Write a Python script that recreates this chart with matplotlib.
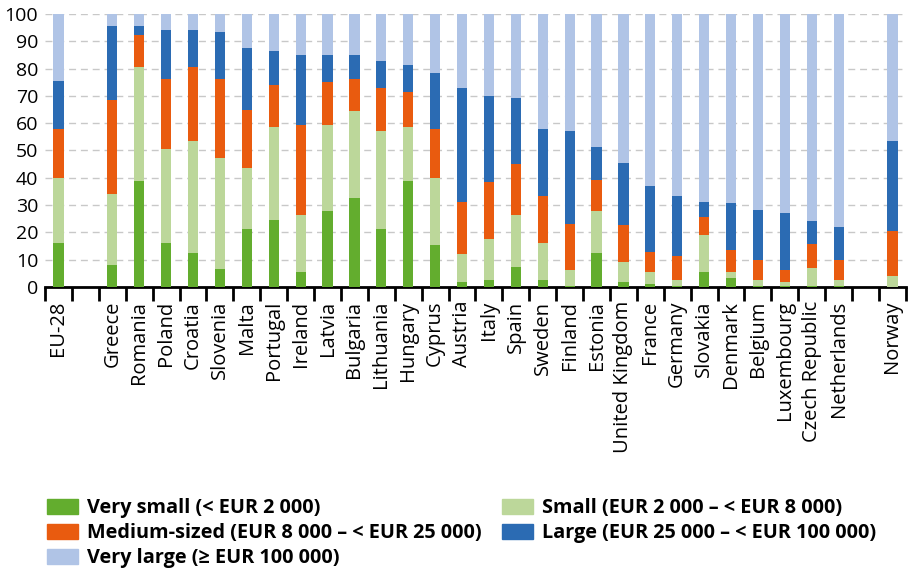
import numpy as np
import matplotlib.pyplot as plt
from matplotlib.patches import Patch

plt.rcParams['font.family'] = ['Open Sans', 'DejaVu Sans']

countries = ["EU-28", "", "Greece", "Romania", "Poland", "Croatia", "Slovenia", "Malta",
             "Portugal", "Ireland", "Latvia", "Bulgaria", "Lithuania", "Hungary", "Cyprus",
             "Austria", "Italy", "Spain", "Sweden", "Finland", "Estonia", "United Kingdom",
             "France", "Germany", "Slovakia", "Denmark", "Belgium", "Luxembourg",
             "Czech Republic", "Netherlands", "", "Norway"]

# shares (%) of holdings by economic size class
very_small = [16.2, 0, 8.2, 39.0, 16.2, 12.5, 6.7, 21.1, 24.6, 5.4, 27.7, 32.6, 21.1, 39.0, 15.4,
              1.8, 2.6, 7.5, 2.6, 0.3, 12.5, 1.8, 1.1, 0.3, 5.4, 3.4, 0.3, 0.2, 0.3, 0.2, 0, 0.0]
small = [23.6, 0, 26.0, 41.6, 34.3, 40.9, 40.4, 22.3, 33.9, 20.9, 31.5, 31.7, 35.9, 19.5, 24.4,
         10.2, 15.0, 18.7, 13.6, 6.0, 15.2, 7.4, 4.4, 2.4, 13.7, 2.1, 2.4, 1.6, 6.8, 2.5, 0, 4.0]
medium = [17.9, 0, 34.4, 11.6, 25.8, 27.2, 29.2, 21.6, 15.6, 32.9, 15.8, 12.0, 15.8, 12.8, 17.9,
          19.3, 20.9, 18.7, 17.3, 16.9, 11.5, 13.5, 7.2, 8.6, 6.4, 8.1, 7.2, 4.5, 8.5, 7.2, 0, 16.6]
large = [17.9, 0, 27.1, 3.5, 17.8, 13.5, 17.1, 22.7, 12.2, 25.7, 9.9, 8.6, 9.9, 10.0, 20.7,
         41.5, 31.4, 24.2, 24.2, 33.8, 12.0, 22.8, 24.2, 22.0, 5.8, 17.0, 18.4, 20.7, 8.4, 11.9, 0, 32.7]
very_large = [24.4, 0, 4.3, 4.3, 5.9, 5.9, 6.6, 12.3, 13.7, 15.1, 15.1, 15.1, 17.3, 18.7, 21.6,
              27.2, 30.1, 30.9, 42.3, 43.0, 48.8, 54.5, 63.1, 66.7, 68.7, 69.4, 71.7, 73.0, 76.0, 78.2, 0, 46.7]

series = [very_small, small, medium, large, very_large]
labels = ["Very small (< EUR 2 000)", "Small (EUR 2 000 – < EUR 8 000)",
          "Medium-sized (EUR 8 000 – < EUR 25 000)", "Large (EUR 25 000 – < EUR 100 000)",
          "Very large (≥ EUR 100 000)"]
colors = ["#63ad2e", "#bcd79a", "#e95b0f", "#2b6bb3", "#b0c4e6"]

fig = plt.figure(figsize=(9.1, 5.7), dpi=100)
ax = fig.add_axes([0.0495, 0.4965, 0.946, 0.479])

x = np.arange(len(countries))
bottom = np.zeros(len(countries))
for vals, c in zip(series, colors):
    vals = np.array(vals)
    ax.bar(x, vals, 0.38, bottom=bottom, color=c, zorder=3)
    bottom += vals

ax.set_ylim(0, 100)
ax.set_xlim(-0.5, len(countries) - 0.5)
ax.set_yticks(range(0, 101, 10))
ax.tick_params(axis='y', length=0, labelsize=14, pad=5)
ax.yaxis.grid(True, ls=(0, (5, 3.5)), color="#c8c8c8", lw=1.0, zorder=0)

ax.set_xticks(x)
ax.set_xticklabels(countries, rotation=90, fontsize=14.5)
ax.set_xticks(np.arange(-0.5, len(countries), 1), minor=True)
ax.tick_params(axis='x', which='major', length=0, pad=10)
ax.tick_params(axis='x', which='minor', length=10, width=2, color='black')

for s in ["top", "right", "left"]:
    ax.spines[s].set_visible(False)
ax.spines["bottom"].set_linewidth(2)

order = [0, 2, 4, 1, 3]
handles = [Patch(color=colors[i]) for i in order]
fig.legend(handles, [labels[i] for i in order], ncol=2, loc="upper left",
           bbox_to_anchor=(0.0363, 0.15), frameon=False, borderpad=0.2,
           prop={'weight': 'bold', 'size': 14.3}, handlelength=1.55, handleheight=0.75,
           labelspacing=0.25, columnspacing=1.06, handletextpad=0.45)

fig.savefig("out.png", dpi=100)
